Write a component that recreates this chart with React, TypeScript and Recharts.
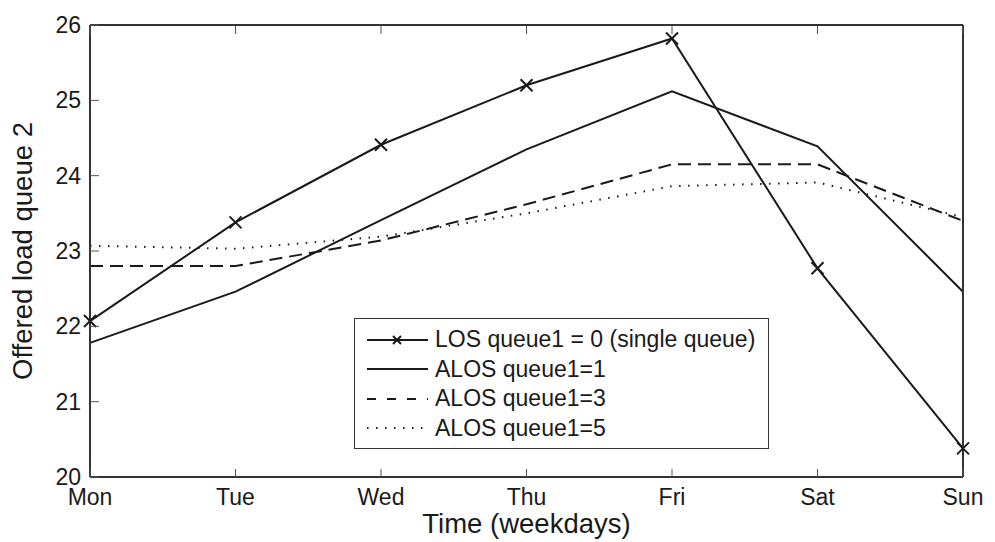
import { LineChart, Line, XAxis, YAxis, Legend } from "recharts";

const days = ["Mon", "Tue", "Wed", "Thu", "Fri", "Sat", "Sun"];
const yTicks = [20, 21, 22, 23, 24, 25, 26];
const losSingle = [22.07, 23.38, 24.41, 25.2, 25.82, 22.77, 20.38];
const alos1 = [21.78, 22.46, 23.41, 24.35, 25.12, 24.39, 22.46];
const alos3 = [22.8, 22.8, 23.14, 23.62, 24.15, 24.15, 23.4];
const alos5 = [23.07, 23.03, 23.19, 23.5, 23.86, 23.91, 23.45];

const INK = "#1a1a1a";
const FONT = "'Liberation Sans', Arial, Helvetica, sans-serif";

const data = days.map((day, i) => ({
  day,
  los: losSingle[i],
  a1: alos1[i],
  a3: alos3[i],
  a5: alos5[i],
}));

const series = [
  { key: "los", name: "LOS queue1 = 0 (single queue)", dash: undefined, cross: true },
  { key: "a1", name: "ALOS queue1=1", dash: undefined, cross: false },
  { key: "a3", name: "ALOS queue1=3", dash: "13 7", cross: false },
  { key: "a5", name: "ALOS queue1=5", dash: "1.5 7.5", cross: false },
];

const legendDash: Record<string, string | undefined> = {
  a3: "9 11",
  a5: "1.5 7.5",
};

// x marker for the single queue series
function CrossDot(props: any) {
  const { cx, cy } = props;
  if (cx == null || cy == null) return null;
  const s = 6;
  return (
    <g stroke={INK} strokeWidth={2}>
      <line x1={cx - s} y1={cy - s} x2={cx + s} y2={cy + s} />
      <line x1={cx - s} y1={cy + s} x2={cx + s} y2={cy - s} />
    </g>
  );
}

// ticks point inwards, like the matlab box
function BottomTick(props: any) {
  const { x, y, payload } = props;
  const axisY = y - 8;
  return (
    <g>
      <line x1={x} y1={axisY} x2={x} y2={axisY - 8} stroke="#555" strokeWidth={1} />
      <text x={x} y={y + 20} textAnchor="middle" fill={INK} fontSize={23} fontFamily={FONT}>
        {payload.value}
      </text>
    </g>
  );
}

function TopTick(props: any) {
  const { x, y } = props;
  const axisY = y + 1;
  return <line x1={x} y1={axisY} x2={x} y2={axisY + 8} stroke="#555" strokeWidth={1} />;
}

function LeftTick(props: any) {
  const { x, y, payload } = props;
  const axisX = x + 9;
  return (
    <g>
      <line x1={axisX} y1={y} x2={axisX + 9} y2={y} stroke="#555" strokeWidth={1} />
      <text x={x} y={y + 8} textAnchor="end" fill={INK} fontSize={23} fontFamily={FONT}>
        {payload.value}
      </text>
    </g>
  );
}

function RightTick(props: any) {
  const { x, y } = props;
  const axisX = x - 1;
  return <line x1={axisX} y1={y} x2={axisX - 9} y2={y} stroke="#555" strokeWidth={1} />;
}

function LegendBox() {
  return (
    <div
      style={{
        width: 415,
        height: 131,
        boxSizing: "border-box",
        border: "1.5px solid #333",
        background: "#fff",
        paddingTop: 6,
        fontFamily: FONT,
        fontSize: 23,
        color: INK,
      }}
    >
      {series.map((s) => (
        <div key={s.key} style={{ height: 29.5, display: "flex", alignItems: "center" }}>
          <svg width={80} height={24} style={{ flex: "none" }}>
            <line
              x1={12}
              y1={12}
              x2={73}
              y2={12}
              stroke={INK}
              strokeWidth={2}
              strokeDasharray={legendDash[s.key]}
            />
            {s.cross && (
              <g stroke={INK} strokeWidth={2}>
                <line x1={38} y1={8} x2={46} y2={16} />
                <line x1={38} y1={16} x2={46} y2={8} />
              </g>
            )}
          </svg>
          <span style={{ whiteSpace: "nowrap", lineHeight: 1 }}>{s.name}</span>
        </div>
      ))}
    </div>
  );
}

export default function App() {
  return (
    <div style={{ position: "absolute", left: 8, top: 8, background: "#fff" }}>
      <LineChart
        width={987}
        height={534}
        data={data}
        margin={{ top: 16, right: 31, left: 0, bottom: 0 }}
      >
        <XAxis
          dataKey="day"
          height={65}
          tickSize={0}
          tickMargin={8}
          tick={<BottomTick />}
          interval={0}
          axisLine={{ stroke: "#333", strokeWidth: 2 }}
          label={{
            value: "Time (weekdays)",
            position: "insideBottom",
            offset: 9,
            fill: INK,
            fontSize: 27.5,
            fontFamily: FONT,
          }}
        />
        <XAxis
          xAxisId="top"
          orientation="top"
          dataKey="day"
          height={1}
          tickSize={0}
          tickMargin={0}
          tick={<TopTick />}
          interval={0}
          axisLine={{ stroke: "#333", strokeWidth: 2 }}
        />
        <YAxis
          domain={[20, 26]}
          ticks={yTicks}
          width={82}
          tickSize={0}
          tickMargin={9}
          tick={<LeftTick />}
          interval={0}
          axisLine={{ stroke: "#333", strokeWidth: 2 }}
          label={{
            value: "Offered load queue 2",
            angle: -90,
            position: "insideLeft",
            offset: 14,
            fill: INK,
            fontSize: 27.5,
            fontFamily: FONT,
            style: { textAnchor: "middle" },
          }}
        />
        <YAxis
          yAxisId="right"
          orientation="right"
          domain={[20, 26]}
          ticks={yTicks}
          width={1}
          tickSize={0}
          tickMargin={0}
          tick={<RightTick />}
          interval={0}
          axisLine={{ stroke: "#333", strokeWidth: 2 }}
        />
        {series.map((s) => (
          <Line
            key={s.key}
            type="linear"
            dataKey={s.key}
            name={s.name}
            stroke={INK}
            strokeWidth={2}
            strokeDasharray={s.dash}
            dot={s.cross ? <CrossDot /> : false}
            activeDot={false}
            isAnimationActive={false}
          />
        ))}
        <Legend
          layout="vertical"
          align="center"
          verticalAlign="middle"
          content={<LegendBox />}
          wrapperStyle={{ left: 346, top: 310, width: 415, height: 131 }}
        />
      </LineChart>
    </div>
  );
}
